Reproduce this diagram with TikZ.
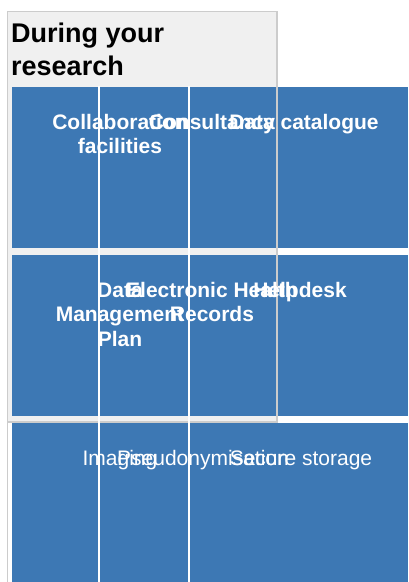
\documentclass[tikz,border=0pt]{standalone}
\usepackage{fontspec}
\setmainfont{Liberation Sans}
\definecolor{panelgrey}{HTML}{F0F0F0}
\definecolor{bordergrey}{HTML}{CCCCCC}
\definecolor{cellblue}{HTML}{3D78B4}
\begin{document}
\begin{tikzpicture}[x=1pt,y=-1pt,
  rowbox/.style={fill=cellblue,draw=none},
  lbl/.style={text=white,font=\bfseries\fontsize{21}{24.5}\selectfont,inner sep=0pt,align=center,anchor=base},
  lblreg/.style={text=white,font=\fontsize{21}{24.5}\selectfont,inner sep=0pt,anchor=base},
  divider/.style={draw=white,line width=1.5pt},
  greyline/.style={draw=bordergrey,line width=1.5pt}]
\useasboundingbox (0,0) rectangle (408,582);
% container
\path[fill=panelgrey,draw=bordergrey,line width=1.2pt] (7.5,11.5) rectangle (277,422);
\draw[greyline,line width=1.2pt] (7.5,422) -- (7.5,582);
% multi-line nodes: the base anchor sits on the last line
\node[anchor=base west,inner sep=0pt,align=left,font=\bfseries\fontsize{27}{33}\selectfont] (title) at (11,75) {During your\\research};
% rows
\path[rowbox] (12,87) rectangle (408,248);
\path[rowbox] (12,255) rectangle (408,416);
\path[rowbox] (12,423) rectangle (408,582);
% dividers
\draw[divider] (99,86) -- (99,582);
\draw[divider] (189,86) -- (189,582);
\draw[greyline] (277,87) -- (277,422);
% row 1
\node[lbl] (collab) at (120,153.5) {Collaboration\\facilities};
\node[lbl] (consult) at (212,129) {Consultancy};
\node[lbl] (datacat) at (304,129) {Data catalogue};
% row 2
\node[lbl] (dmp) at (120,346) {Data\\Management\\Plan};
\node[lbl] (ehr) at (212,321.5) {Electronic Health\\Records};
\node[lbl] (help) at (300,297) {Helpdesk};
% row 3
\node[lblreg] (imaging) at (120,465) {Imaging};
\node[lblreg] (pseudo) at (203,465) {Pseudonymisation};
\node[lblreg] (secure) at (301,465) {Secure storage};
\end{tikzpicture}
\end{document}
